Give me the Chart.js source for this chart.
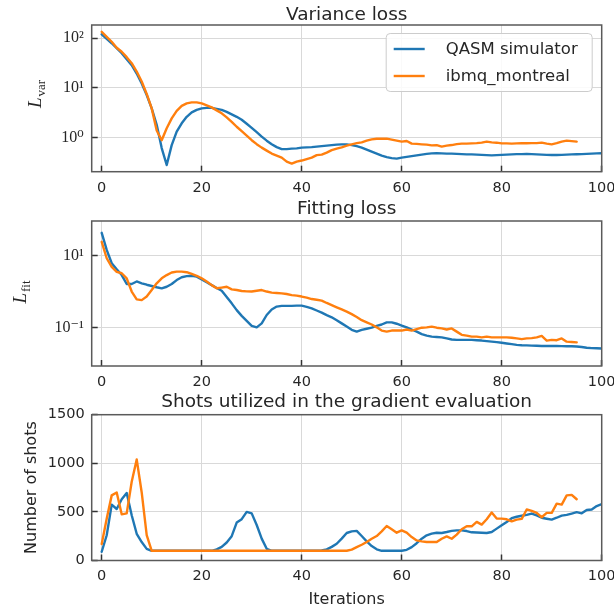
<!DOCTYPE html>
<html>
<head>
<meta charset="utf-8">
<script src="https://cdn.jsdelivr.net/npm/chart.js@4.4.1/dist/chart.umd.min.js"></script>
<style>
  html, body { margin: 0; padding: 0; background: #fff; }
  #wrap { position: relative; width: 614px; height: 614px; overflow: hidden; }
  #wrap canvas { position: absolute; left: 0; }
</style>
</head>
<body>
<div id="wrap">
  <canvas id="chart-var" width="614" height="205" style="top:0;width:614px;height:205px"></canvas>
  <canvas id="chart-fit" width="614" height="200" style="top:195px;width:614px;height:200px"></canvas>
  <canvas id="chart-shots" width="614" height="224" style="top:390px;width:614px;height:224px"></canvas>
</div>
<script>
// Iterations 0..100 (montreal run stops at 95)
const iterations = [];
for (let i = 0; i <= 100; i++) iterations.push(i);

const xTicks = [0, 20, 40, 60, 80, 100];
const varTicks = [1, 10, 100];
const varTickLabels = ['10⁰', '10¹', '10²'];
const fitTicks = [0.1, 10];
const fitTickLabels = ['10⁻¹', '10¹'];
const shotTicks = [0, 500, 1000, 1500];

const seriesLabels = ['QASM simulator', 'ibmq_montreal'];

// Variance loss
const varSim = [
  120.2, 97.7, 79.4, 63.1, 50.1, 38.0, 28.8, 19.5, 12.3, 7.24,
  3.89, 1.82, 0.617, 0.282, 0.708, 1.32, 1.95, 2.63, 3.24, 3.63,
  3.89, 3.98, 3.98, 3.80, 3.63, 3.31, 2.95, 2.63, 2.29, 1.91,
  1.58, 1.29, 1.05, 0.871, 0.741, 0.646, 0.589, 0.589, 0.603, 0.610,
  0.631, 0.638, 0.646, 0.661, 0.676, 0.692, 0.708, 0.724, 0.735, 0.733,
  0.708, 0.676, 0.631, 0.575, 0.525, 0.479, 0.437, 0.407, 0.389, 0.380,
  0.398, 0.412, 0.427, 0.442, 0.457, 0.473, 0.484, 0.490, 0.484, 0.479,
  0.479, 0.473, 0.468, 0.462, 0.462, 0.457, 0.452, 0.447, 0.441, 0.447,
  0.452, 0.457, 0.462, 0.468, 0.468, 0.471, 0.468, 0.462, 0.457, 0.452,
  0.450, 0.450, 0.452, 0.457, 0.462, 0.465, 0.468, 0.473, 0.479, 0.484,
  0.486
];
const varMontreal = [
  134.9, 107.2, 85.1, 64.6, 53.7, 41.7, 31.6, 21.4, 13.5, 7.59,
  3.89, 1.40, 0.891, 1.55, 2.45, 3.47, 4.37, 4.90, 5.13, 5.13,
  4.90, 4.47, 4.07, 3.55, 3.09, 2.57, 2.09, 1.66, 1.35, 1.10,
  0.891, 0.741, 0.631, 0.550, 0.479, 0.437, 0.398, 0.331, 0.302, 0.331,
  0.347, 0.372, 0.398, 0.447, 0.457, 0.501, 0.562, 0.603, 0.638, 0.692,
  0.735, 0.776, 0.805, 0.871, 0.925, 0.955, 0.955, 0.955, 0.912, 0.871,
  0.832, 0.857, 0.759, 0.750, 0.735, 0.724, 0.701, 0.708, 0.661, 0.692,
  0.711, 0.741, 0.759, 0.759, 0.769, 0.776, 0.794, 0.832, 0.805, 0.794,
  0.769, 0.767, 0.759, 0.767, 0.771, 0.771, 0.776, 0.776, 0.794, 0.759,
  0.736, 0.776, 0.832, 0.871, 0.851, 0.832
];

// Fitting loss
const fitSim = [
  43.7, 14.5, 6.17, 4.17, 2.88, 1.62, 1.62, 1.91, 1.70, 1.55,
  1.43, 1.32, 1.23, 1.36, 1.62, 2.09, 2.51, 2.69, 2.75, 2.60,
  2.19, 1.82, 1.51, 1.26, 1.05, 0.708, 0.468, 0.302, 0.209, 0.151,
  0.110, 0.100, 0.129, 0.221, 0.316, 0.380, 0.398, 0.398, 0.398, 0.403,
  0.403, 0.372, 0.339, 0.295, 0.257, 0.219, 0.191, 0.158, 0.129, 0.105,
  0.0851, 0.0759, 0.0851, 0.0912, 0.0977, 0.110, 0.120, 0.138, 0.138, 0.126,
  0.112, 0.100, 0.0871, 0.0759, 0.0646, 0.0589, 0.0550, 0.0537, 0.0525, 0.0490,
  0.0457, 0.0447, 0.0447, 0.0447, 0.0447, 0.0437, 0.0427, 0.0412, 0.0398, 0.0385,
  0.0372, 0.0355, 0.0339, 0.0324, 0.0316, 0.0313, 0.0309, 0.0305, 0.0302, 0.0302,
  0.0302, 0.0302, 0.0299, 0.0295, 0.0295, 0.0292, 0.0282, 0.0269, 0.0263, 0.0260,
  0.0257
];
const fitMontreal = [
  24.5, 8.51, 4.90, 3.55, 3.24, 2.34, 1.00, 0.603, 0.575, 0.724,
  1.10, 1.70, 2.34, 2.88, 3.39, 3.59, 3.59, 3.47, 3.09, 2.75,
  2.34, 1.91, 1.51, 1.23, 1.29, 1.36, 1.15, 1.10, 1.035, 1.01,
  1.00, 1.05, 1.10, 1.00, 0.933, 0.912, 0.891, 0.851, 0.794, 0.767,
  0.724, 0.676, 0.617, 0.589, 0.556, 0.479, 0.417, 0.363, 0.316, 0.275,
  0.234, 0.195, 0.158, 0.138, 0.120, 0.100, 0.0813, 0.0759, 0.0813, 0.0813,
  0.0813, 0.0871, 0.0813, 0.0891, 0.0977, 0.100, 0.105, 0.0977, 0.0933, 0.0871,
  0.0933, 0.0759, 0.0617, 0.0589, 0.0550, 0.0550, 0.0525, 0.0550, 0.0525, 0.0525,
  0.0525, 0.0525, 0.0513, 0.0490, 0.0468, 0.0490, 0.0501, 0.0525, 0.0575, 0.0427,
  0.0447, 0.0437, 0.0490, 0.0398, 0.0389, 0.0380
];

// Shots utilized in the gradient evaluation
const shotsSim = [
  90, 260, 575, 530, 630, 695, 465, 275, 190, 120,
  100, 100, 100, 100, 100, 100, 100, 100, 100, 100,
  100, 100, 100, 115, 140, 185, 250, 390, 425, 500,
  485, 365, 225, 120, 100, 100, 100, 100, 100, 100,
  100, 100, 100, 100, 103, 115, 140, 172, 225, 283,
  300, 305, 252, 197, 148, 115, 100, 100, 100, 100,
  100, 110, 138, 178, 224, 259, 276, 286, 283, 293,
  305, 310, 310, 303, 290, 288, 286, 283, 293, 328,
  362, 397, 435, 450, 460, 470, 483, 465, 440, 430,
  421, 440, 462, 470, 483, 497, 485, 520, 525, 560,
  580
];
const shotsMontreal = [
  170, 430, 670, 700, 475, 485, 810, 1040, 700, 260,
  100, 100, 100, 100, 100, 100, 100, 100, 100, 100,
  100, 100, 100, 100, 100, 100, 100, 100, 100, 100,
  100, 100, 100, 100, 100, 100, 100, 100, 100, 100,
  100, 100, 100, 100, 100, 100, 100, 100, 100, 100,
  112, 138, 162, 190, 224, 252, 300, 355, 321, 286,
  310, 286, 241, 207, 197, 190, 190, 190, 224, 248,
  224, 266, 321, 352, 352, 397, 369, 424, 493, 431,
  431, 424, 403, 421, 428, 525, 510, 490, 445, 490,
  490, 585, 575, 670, 675, 630
];

const BLUE = '#1f77b4';
const ORANGE = '#ff7f0e';
const TEXT = '#262626';
const SANS = '"DejaVu Sans", sans-serif';
const SERIF = '"Liberation Serif", "DejaVu Serif", serif';

// plot box in page pixels: left 91.7, right 601.7
const PLOT_LEFT = 91.7;
const PLOT_RIGHT_PAD = 614 - 601.7;

function lineDataset(label, data, color, order) {
  return {
    label, data,
    borderColor: color,
    backgroundColor: color,
    borderWidth: 2.4,
    pointRadius: 0,
    tension: 0,
    fill: false,
    order,
    borderJoinStyle: 'round',
    borderCapStyle: 'round',
  };
}

// full box around the plot (matplotlib spines)
const framePlugin = {
  id: 'frame',
  afterDraw(chart) {
    const { ctx, chartArea: a } = chart;
    ctx.save();
    ctx.strokeStyle = '#5a5a5a';
    ctx.lineWidth = 1.5;
    ctx.strokeRect(a.left, a.top, a.right - a.left, a.bottom - a.top);
    ctx.restore();
  }
};

// italic L with an upright subscript, rotated like a y label
function mathLabel(main, sub, x, y) {
  return {
    id: 'mathLabel',
    afterDraw(chart) {
      const ctx = chart.ctx;
      ctx.save();
      ctx.translate(x, y);
      ctx.rotate(-Math.PI / 2);
      ctx.fillStyle = TEXT;
      ctx.textBaseline = 'alphabetic';
      ctx.font = 'italic 19px ' + SERIF;
      const wL = ctx.measureText(main).width;
      ctx.font = '13px ' + SERIF;
      const wS = ctx.measureText(sub).width;
      const start = -(wL + wS + 1) / 2;
      ctx.font = 'italic 19px ' + SERIF;
      ctx.fillText(main, start, 0);
      ctx.font = '13px ' + SERIF;
      ctx.fillText(sub, start + wL + 1, 4);
      ctx.restore();
    }
  };
}

// legend box in the upper right of the first panel
const boxLegend = {
  id: 'boxLegend',
  afterDraw(chart) {
    const { ctx, chartArea: a } = chart;
    const right = a.right - 10, top = a.top + 8;
    const w = 206, h = 58;
    ctx.save();
    ctx.beginPath();
    ctx.roundRect(right - w + 0.5, top + 0.5, w, h, 4);
    ctx.fillStyle = 'rgba(255,255,255,0.85)';
    ctx.fill();
    ctx.strokeStyle = '#cccccc';
    ctx.lineWidth = 1;
    ctx.stroke();
    ctx.font = '16.5px ' + SANS;
    ctx.textBaseline = 'middle';
    ctx.textAlign = 'left';
    chart.data.datasets.forEach((ds, i) => {
      const y = top + 16 + i * 27;
      ctx.beginPath();
      ctx.moveTo(right - w + 8, y);
      ctx.lineTo(right - w + 39, y);
      ctx.strokeStyle = ds.borderColor;
      ctx.lineWidth = 2.4;
      ctx.stroke();
      ctx.fillStyle = TEXT;
      ctx.fillText(ds.label, right - w + 60, y + 1);
    });
    ctx.restore();
  }
};

function xScale(canvasH, plotBottom, withTitle) {
  return {
    type: 'linear',
    min: -2,
    max: 100,
    afterBuildTicks: s => { s.ticks = xTicks.map(v => ({ value: v })); },
    afterFit: s => { s.height = canvasH - plotBottom; s.paddingLeft = 0; s.paddingRight = 0; },
    grid: { color: '#d9d9d9', lineWidth: 1, tickColor: '#333', tickLength: -6, tickWidth: 1.5 },
    border: { display: false },
    ticks: {
      color: TEXT, font: { family: SANS, size: 14.5 }, padding: 13.5, autoSkip: false, maxRotation: 0,
      callback: v => String(v),
    },
    title: withTitle
      ? { display: true, text: 'Iterations', color: TEXT, font: { family: SANS, size: 16 }, padding: { top: 0, bottom: 4.4 } }
      : { display: false },
  };
}

function yGrid() {
  return { color: '#d9d9d9', lineWidth: 1, tickColor: '#333', tickLength: -6, tickWidth: 1.5 };
}

function titleOpts(text, top, bottom) {
  return {
    display: true, text, color: TEXT, fullSize: false,
    font: { family: SANS, size: 18.5, weight: 'normal', lineHeight: 1 },
    padding: { top, bottom },
  };
}

function baseOptions() {
  return {
    responsive: false,
    animation: false,
    events: [],
    layout: { padding: { left: 0, right: PLOT_RIGHT_PAD, top: 0, bottom: 0 } },
  };
}

// Variance loss
new Chart(document.getElementById('chart-var'), {
  type: 'line',
  data: {
    labels: iterations,
    datasets: [
      lineDataset(seriesLabels[0], varSim, BLUE, 1),
      lineDataset(seriesLabels[1], varMontreal, ORANGE, 0),
    ],
  },
  options: {
    ...baseOptions(),
    plugins: { legend: { display: false }, tooltip: { enabled: false }, title: titleOpts('Variance loss', 5.5, 1) },
    scales: {
      x: xScale(205, 171.7, false),
      y: {
        type: 'logarithmic',
        min: 0.207,
        max: 185,
        afterBuildTicks: s => { s.ticks = varTicks.map(v => ({ value: v })); },
        afterFit: s => { s.width = PLOT_LEFT; s.paddingTop = 0; s.paddingBottom = 0; },
        grid: yGrid(),
        border: { display: false },
        ticks: {
          color: TEXT, font: { family: SERIF, size: 16 }, padding: 14, autoSkip: false,
          callback: v => varTickLabels[varTicks.indexOf(v)] ?? '',
        },
      },
    },
  },
  plugins: [framePlugin, mathLabel('L', 'var', 41, 94), boxLegend],
});

// Fitting loss
new Chart(document.getElementById('chart-fit'), {
  type: 'line',
  data: {
    labels: iterations,
    datasets: [
      lineDataset(seriesLabels[0], fitSim, BLUE, 1),
      lineDataset(seriesLabels[1], fitMontreal, ORANGE, 0),
    ],
  },
  options: {
    ...baseOptions(),
    plugins: { legend: { display: false }, tooltip: { enabled: false }, title: titleOpts('Fitting loss', 4.8, 2.7) },
    scales: {
      x: xScale(200, 366 - 195, false),
      y: {
        type: 'logarithmic',
        min: 0.00832,
        max: 93.3,
        afterBuildTicks: s => { s.ticks = fitTicks.map(v => ({ value: v })); },
        afterFit: s => { s.width = PLOT_LEFT; s.paddingTop = 0; s.paddingBottom = 0; },
        grid: yGrid(),
        border: { display: false },
        ticks: {
          color: TEXT, font: { family: SERIF, size: 16 }, padding: 14, autoSkip: false,
          callback: v => fitTickLabels[fitTicks.indexOf(v)] ?? '',
        },
      },
    },
  },
  plugins: [framePlugin, mathLabel('L', 'fit', 26, 292 - 195)],
});

// Shots
new Chart(document.getElementById('chart-shots'), {
  type: 'line',
  data: {
    labels: iterations,
    datasets: [
      lineDataset(seriesLabels[0], shotsSim, BLUE, 1),
      lineDataset(seriesLabels[1], shotsMontreal, ORANGE, 0),
    ],
  },
  options: {
    ...baseOptions(),
    plugins: {
      legend: { display: false }, tooltip: { enabled: false },
      title: titleOpts('Shots utilized in the gradient evaluation', 3.3, 2.9),
    },
    scales: {
      x: xScale(224, 560.5 - 390, true),
      y: {
        type: 'linear',
        min: 0,
        max: 1500,
        afterBuildTicks: s => { s.ticks = shotTicks.map(v => ({ value: v })); },
        afterFit: s => { s.width = PLOT_LEFT; s.paddingTop = 0; s.paddingBottom = 0; },
        grid: yGrid(),
        border: { display: false },
        ticks: {
          color: TEXT, font: { family: SANS, size: 14.5 }, padding: 13, autoSkip: false,
          callback: v => String(v),
        },
        title: { display: true, text: 'Number of shots', color: TEXT, font: { family: SANS, size: 16 }, padding: { top: 22, bottom: 0 } },
      },
    },
  },
  plugins: [framePlugin],
});
</script>
</body>
</html>
